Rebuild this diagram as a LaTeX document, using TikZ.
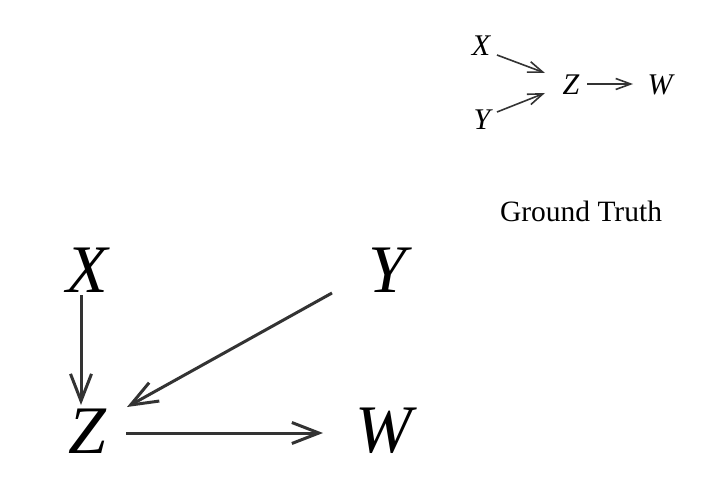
\documentclass[tikz,border=0pt]{standalone}
\usepackage{fontspec}
\setmainfont{Liberation Serif}
\usetikzlibrary{arrows.meta}
\begin{document}
\begin{tikzpicture}[x=1pt,y=-1pt,
  small/.style={font=\fontsize{30}{32}\selectfont\itshape, inner sep=0pt},
  big/.style={font=\fontsize{68}{70}\selectfont\itshape, inner sep=0pt},
  sarr/.style={draw=black!80, line width=1.6pt, -{Straight Barb[length=15pt,width=11pt,line width=1.6pt]}},
  barr/.style={draw=black!80, line width=3pt, -{Straight Barb[length=27pt,width=21pt,line width=3pt]}},
  lbl/.style={font=\fontsize{29.5}{31}\selectfont, inner sep=0pt}]
\useasboundingbox (0,0) rectangle (708,497);
% small diagram
\node[small] (sx) at (481,46) {X};
\node[small] (sy) at (482,120) {Y};
\node[small] (sz) at (571,85) {Z};
\node[small] (sw) at (660,85) {W};
\coordinate (sxs) at (497,55);
\coordinate (sxe) at (545,73);
\coordinate (sys) at (497,112);
\coordinate (sye) at (545,93);
\coordinate (szs) at (587,84);
\coordinate (swe) at (633,84);
\draw[sarr] (sxs) -- (sxe);
\draw[sarr] (sys) -- (sye);
\draw[sarr] (szs) -- (swe);
\node[lbl] (gt) at (581,211) {Ground Truth};
% big diagram
\node[big] (bx) at (87,270) {X};
\node[big] (by) at (387,270) {Y};
\node[big] (bz) at (87,431) {Z};
\node[big] (bw) at (384,431) {W};
\coordinate (bxs) at (81,295);
\coordinate (bxe) at (81,405);
\coordinate (bys) at (332,293);
\coordinate (bye) at (127,407);
\coordinate (bzs) at (126,433);
\coordinate (bwe) at (323,433);
\draw[barr] (bxs) -- (bxe);
\draw[barr] (bys) -- (bye);
\draw[barr] (bzs) -- (bwe);
\end{tikzpicture}
\end{document}
